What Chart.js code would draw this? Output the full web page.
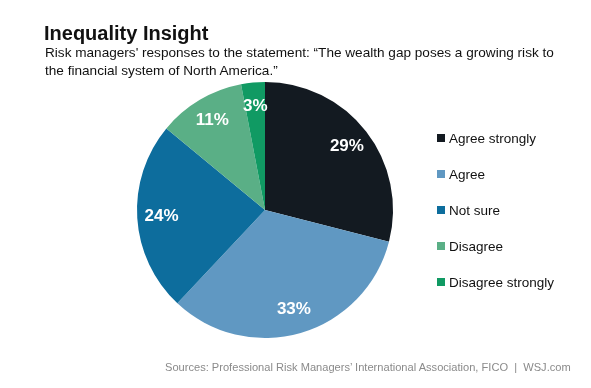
<!DOCTYPE html>
<html>
<head>
<meta charset="utf-8">
<script src="https://cdn.jsdelivr.net/npm/chart.js@4"></script>
<style>
  body { margin: 0; background: #fff; font-family: 'Liberation Sans', Arial, sans-serif; }
  #wrap { position: relative; width: 591px; height: 388px; }
  #grafico { position: absolute; left: 0; top: 0; }
  .titulo { position: absolute; left: 44px; top: 22px; font-size: 20px; font-weight: bold; color: #111; }
  .sub { position: absolute; left: 45px; top: 44px; font-size: 13.6px; line-height: 18px; color: #111; width: 540px; }
  .fonte { position: absolute; left: 165px; top: 361px; font-size: 11.1px; color: #8a8a8a; }
</style>
</head>
<body>
<div id="wrap">
  <canvas id="grafico" width="591" height="388"></canvas>
  <div class="titulo">Inequality Insight</div>
  <div class="sub">Risk managers' responses to the statement: “The wealth gap poses a growing risk to<br>the financial system of North America.”</div>
  <div class="fonte">Sources: Professional Risk Managers’ International Association, FICO &nbsp;|&nbsp; WSJ.com</div>
</div>
<script>
const categorias = ['Agree strongly', 'Agree', 'Not sure', 'Disagree', 'Disagree strongly'];
const valores = [29, 33, 24, 11, 3];
const cores = ['#131a21', '#6098c2', '#0d6d9d', '#5aaf86', '#109a63'];

// rotulos de % dentro das fatias + legenda a direita
const rotulosPlugin = {
  id: 'rotulos',
  afterDraw(chart) {
    const ctx = chart.ctx;
    const meta = chart.getDatasetMeta(0);
    ctx.save();
    ctx.font = 'bold 17px "Liberation Sans", Arial, sans-serif';
    ctx.fillStyle = '#fff';
    ctx.textAlign = 'center';
    ctx.textBaseline = 'middle';
    meta.data.forEach((arc, i) => {
      const p = arc.getProps(['x', 'y', 'startAngle', 'endAngle', 'outerRadius'], true);
      const meio = (p.startAngle + p.endAngle) / 2;
      const r = p.outerRadius * 0.81;
      ctx.fillText(valores[i] + '%', p.x + Math.cos(meio) * r, p.y + Math.sin(meio) * r);
    });

    ctx.font = '13.5px "Liberation Sans", Arial, sans-serif';
    ctx.textAlign = 'left';
    categorias.forEach((nome, i) => {
      const y = 138 + i * 36;
      ctx.fillStyle = cores[i];
      ctx.fillRect(437, y - 4, 8, 8);
      ctx.fillStyle = '#111';
      ctx.fillText(nome, 449, y + 1);
    });
    ctx.restore();
  }
};

new Chart(document.getElementById('grafico'), {
  type: 'pie',
  data: {
    labels: categorias,
    datasets: [{
      data: valores,
      backgroundColor: cores,
      borderWidth: 0
    }]
  },
  options: {
    responsive: false,
    animation: false,
    layout: { padding: { left: 137, right: 198, top: 82, bottom: 50 } },
    plugins: { legend: { display: false }, tooltip: { enabled: false } }
  },
  plugins: [rotulosPlugin]
});
</script>
</body>
</html>
